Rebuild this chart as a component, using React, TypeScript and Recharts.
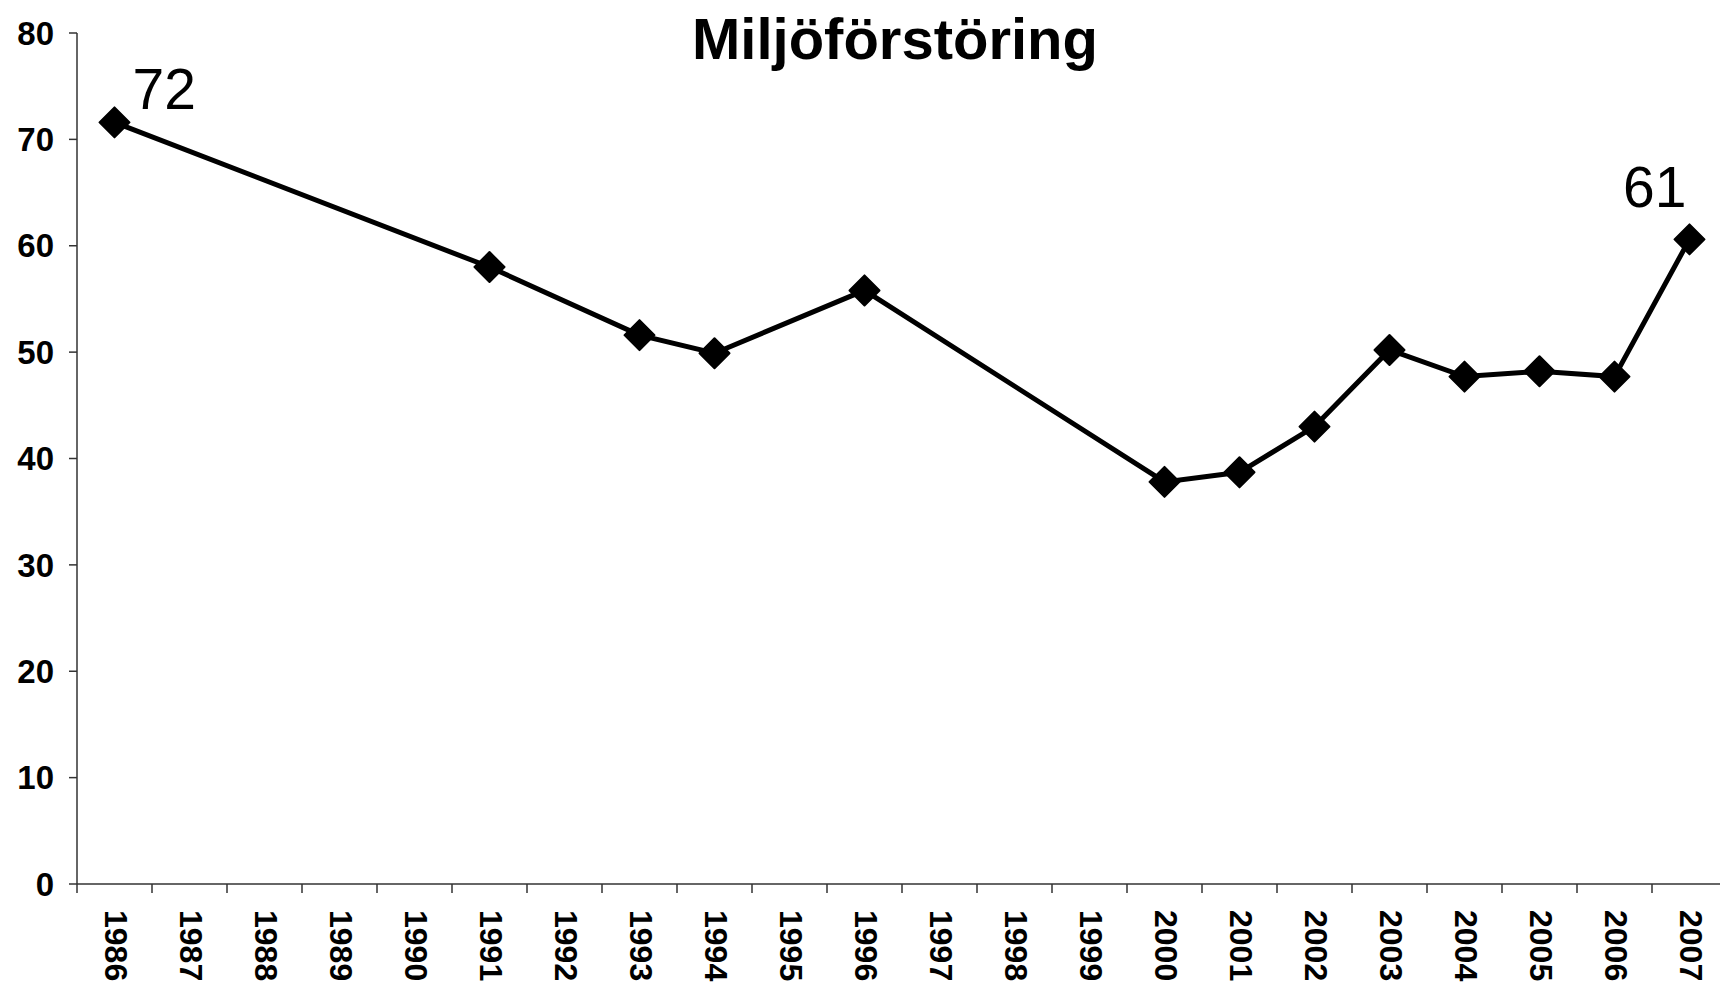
import React from 'react';
import { LineChart, Line, XAxis, YAxis, LabelList } from 'recharts';

// år och värden
const years = [1986, 1987, 1988, 1989, 1990, 1991, 1992, 1993, 1994, 1995, 1996, 1997, 1998, 1999, 2000, 2001, 2002, 2003, 2004, 2005, 2006, 2007];
const measuredYears = [1986, 1991, 1993, 1994, 1996, 2000, 2001, 2002, 2003, 2004, 2005, 2006, 2007];
const values = [71.6, 58.0, 51.6, 49.9, 55.8, 37.8, 38.7, 43.0, 50.2, 47.7, 48.2, 47.7, 60.6];
const yTicks = [0, 10, 20, 30, 40, 50, 60, 70, 80];

const title = 'Miljöförstöring';
const FONT = '"Liberation Sans", Arial, sans-serif';

const data = measuredYears.map((year, i) => ({ year, value: values[i] }));

// tickar: kategorigränser (x.5) + etiketter (heltal)
const xTicks: number[] = [years[0] - 0.5];
years.forEach(y => {
  xTicks.push(y);
  xTicks.push(y + 0.5);
});

const XTick = (props: any) => {
  const { x, y, payload } = props;
  const v = payload.value;
  if (!Number.isInteger(v)) {
    return <line x1={x} y1={y} x2={x} y2={y + 9} stroke="#333" strokeWidth={1.5} />;
  }
  return (
    <g transform={`translate(${x + 2}, ${y + 26}) rotate(90)`}>
      <text x={0} y={0} dy="0.36em" textAnchor="start" fontFamily={FONT} fontWeight="bold" fontSize={32} fill="#000">
        {v}
      </text>
    </g>
  );
};

const Diamond = (props: any) => {
  const { cx, cy } = props;
  if (cx == null || cy == null) return null;
  const r = 15;
  return (
    <polygon
      points={`${cx},${cy - r} ${cx + r},${cy} ${cx},${cy + r} ${cx - r},${cy}`}
      fill="#000"
      stroke="#000"
      strokeWidth={2}
      strokeLinejoin="round"
    />
  );
};

const EndLabel = (props: any) => {
  const { x, y, value, index } = props;
  if (index === 0) {
    return (
      <text x={x + 18} y={y - 13} fontFamily={FONT} fontSize={57} fill="#000">
        {Math.round(value)}
      </text>
    );
  }
  if (index === data.length - 1) {
    return (
      <text x={x - 3} y={y - 32} textAnchor="end" fontFamily={FONT} fontSize={57} fill="#000">
        {Math.round(value)}
      </text>
    );
  }
  return null;
};

export default function App() {
  return (
    <div style={{ position: 'absolute', left: 0, top: 0, width: 1720, height: 984, overflow: 'hidden', background: '#fff' }}>
      <div
        style={{
          position: 'absolute',
          left: 0,
          top: 10,
          width: 1790,
          textAlign: 'center',
          fontFamily: FONT,
          fontWeight: 'bold',
          fontSize: 58,
          lineHeight: '57px',
          color: '#000',
          zIndex: 1,
        }}
      >
        {title}
      </div>
      <LineChart width={1740} height={984} data={data} margin={{ top: 33, right: 13, bottom: 0, left: 0 }}>
        <XAxis
          dataKey="year"
          type="number"
          domain={[years[0] - 0.5, years[years.length - 1] + 0.5]}
          ticks={xTicks}
          interval={0}
          tick={<XTick />}
          tickLine={false}
          tickSize={0}
          tickMargin={0}
          height={100}
          axisLine={{ stroke: '#333', strokeWidth: 1.5 }}
          allowDataOverflow
        />
        <YAxis
          domain={[0, 80]}
          ticks={yTicks}
          interval={0}
          width={77}
          tickSize={8}
          tickMargin={15}
          tick={{ fontFamily: FONT, fontWeight: 'bold', fontSize: 33, fill: '#000' }}
          tickLine={{ stroke: '#333', strokeWidth: 1.5 }}
          axisLine={{ stroke: '#333', strokeWidth: 1.5 }}
        />
        <Line
          type="linear"
          dataKey="value"
          stroke="#000"
          strokeWidth={5}
          dot={<Diamond />}
          activeDot={false}
          isAnimationActive={false}
        >
          <LabelList dataKey="value" content={<EndLabel />} />
        </Line>
      </LineChart>
    </div>
  );
}
